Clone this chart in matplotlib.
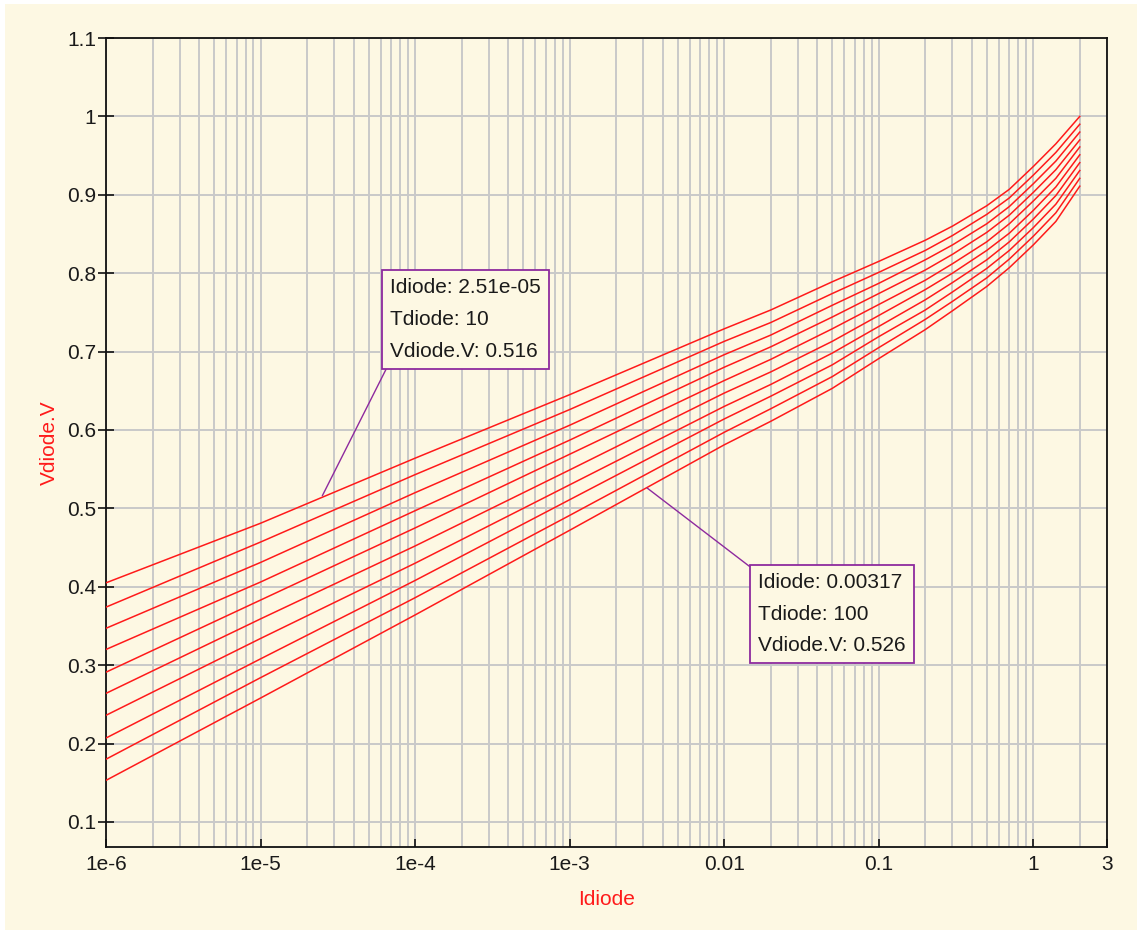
import matplotlib
matplotlib.use('Agg')
import matplotlib.pyplot as plt
from matplotlib.patches import Rectangle
from matplotlib.ticker import FixedLocator, NullFormatter

# ---- data ----
idiode = [1e-6, 1e-5, 1e-4, 1e-3, 1e-2, 0.02, 0.05, 0.1, 0.2, 0.3, 0.5, 0.7, 1.0, 1.4, 2.0]
tdiode = [10, 20, 30, 40, 50, 60, 70, 80, 90, 100]
v_t10 = [0.405, 0.481, 0.564, 0.645, 0.729, 0.753, 0.789, 0.815, 0.842, 0.860, 0.886, 0.907, 0.936, 0.965, 1.000]
v_t20 = [0.374, 0.457, 0.543, 0.626, 0.713, 0.737, 0.774, 0.801, 0.829, 0.848, 0.875, 0.896, 0.925, 0.954, 0.990]
v_t30 = [0.347, 0.431, 0.520, 0.606, 0.696, 0.721, 0.759, 0.787, 0.817, 0.836, 0.863, 0.885, 0.914, 0.943, 0.980]
v_t40 = [0.320, 0.406, 0.497, 0.587, 0.680, 0.706, 0.744, 0.774, 0.804, 0.824, 0.852, 0.874, 0.903, 0.932, 0.970]
v_t50 = [0.291, 0.383, 0.475, 0.569, 0.663, 0.690, 0.729, 0.760, 0.791, 0.812, 0.840, 0.863, 0.892, 0.921, 0.961]
v_t60 = [0.264, 0.359, 0.452, 0.549, 0.647, 0.674, 0.713, 0.746, 0.779, 0.800, 0.829, 0.851, 0.880, 0.910, 0.951]
v_t70 = [0.236, 0.334, 0.430, 0.530, 0.630, 0.658, 0.698, 0.732, 0.766, 0.788, 0.817, 0.840, 0.869, 0.899, 0.941]
v_t80 = [0.207, 0.308, 0.408, 0.511, 0.614, 0.643, 0.683, 0.719, 0.753, 0.776, 0.806, 0.829, 0.858, 0.888, 0.931]
v_t90 = [0.180, 0.284, 0.386, 0.491, 0.597, 0.627, 0.668, 0.705, 0.741, 0.764, 0.794, 0.818, 0.847, 0.877, 0.921]
v_t100 = [0.153, 0.258, 0.364, 0.472, 0.581, 0.611, 0.653, 0.691, 0.728, 0.752, 0.783, 0.807, 0.836, 0.866, 0.911]
series = [v_t10, v_t20, v_t30, v_t40, v_t50, v_t60, v_t70, v_t80, v_t90, v_t100]

xtick_vals = [1e-6, 1e-5, 1e-4, 1e-3, 1e-2, 0.1, 1, 3]
xtick_labels = ['1e-6', '1e-5', '1e-4', '1e-3', '0.01', '0.1', '1', '3']
ytick_vals = [0.1, 0.2, 0.3, 0.4, 0.5, 0.6, 0.7, 0.8, 0.9, 1.0, 1.1]
ytick_labels = ['0.1', '0.2', '0.3', '0.4', '0.5', '0.6', '0.7', '0.8', '0.9', '1', '1.1']

# annotations: (Idiode, Tdiode, V)
ann1 = (2.51e-05, 10, 0.516)
ann1_text = ['2.51e-05', '10', '0.516']
ann2 = (0.00317, 100, 0.526)
ann2_text = ['0.00317', '100', '0.526']

# ---- style ----
W, H = 1137, 930
bg = '#fdf8e3'
grid_c = '#c9c9c9'
red = '#ff1a1a'
purple = '#8e2a9e'
plt.rcParams['font.family'] = ['Liberation Sans', 'DejaVu Sans']
fs = 15

fig = plt.figure(figsize=(W / 100, H / 100), dpi=100)
fig.patch.set_facecolor('white')
fig.patches.append(Rectangle((5 / W, 0), 1 - 5 / W, 1 - 4 / H, transform=fig.transFigure,
                             facecolor=bg, edgecolor='none', zorder=-10))

L, R, T, B = 106, 1107, 38, 847
ax = fig.add_axes([L / W, (H - B) / H, (R - L) / W, (B - T) / H])
ax.set_facecolor(bg)

for v in series:
    ax.plot(idiode, v, color=red, lw=1.1, zorder=3)

ax.set_xscale('log')
ax.set_xlim(1e-6, 3)
ax.set_ylim(0.068, 1.1)

# grid
ax.xaxis.set_major_locator(FixedLocator(xtick_vals))
ax.set_xticklabels(xtick_labels)
minor = []
for d in [1e-6, 1e-5, 1e-4, 1e-3, 1e-2, 0.1, 1]:
    for k in range(2, 10):
        if d * k < 3:
            minor.append(d * k)
ax.xaxis.set_minor_locator(FixedLocator(minor))
ax.xaxis.set_minor_formatter(NullFormatter())
ax.yaxis.set_major_locator(FixedLocator(ytick_vals))
ax.set_yticklabels(ytick_labels)
ax.grid(True, which='major', axis='both', color=grid_c, lw=1.4, zorder=0)
ax.grid(True, which='minor', axis='x', color=grid_c, lw=1.4, zorder=0)
ax.set_axisbelow(True)

for s in ax.spines.values():
    s.set_color('#111111')
    s.set_linewidth(1.3)

ax.tick_params(axis='x', which='major', direction='in', length=5.5, width=1.2,
               color='#111111', labelsize=fs, pad=6, labelcolor='#1a1a1a')
ax.tick_params(axis='x', which='minor', length=0)
ax.tick_params(axis='y', which='major', direction='inout', length=12, width=1.2,
               color='#111111', labelsize=fs, pad=1, labelcolor='#1a1a1a')

ax.set_xlabel('Idiode', color=red, fontsize=fs, labelpad=11)
ax.set_ylabel('Vdiode.V', color=red, fontsize=fs, labelpad=6)

box = dict(boxstyle='square,pad=0.38', facecolor=bg, edgecolor=purple, lw=1.3)

def label(t):
    return f'Idiode: {t[0]}\nTdiode: {t[1]}\nVdiode.V: {t[2]}'

ax.annotate(label(ann1_text), xy=(ann1[0], ann1[2]), xycoords='data',
            xytext=(68, 135), textcoords='offset pixels', ha='left', va='bottom',
            fontsize=fs, color='#1a1a1a', linespacing=1.85, bbox=box, zorder=5,
            arrowprops=dict(arrowstyle='-', color=purple, lw=1.0, shrinkA=0, shrinkB=0,
                            relpos=(0, 0)))
ax.annotate(label(ann2_text), xy=(ann2[0], ann2[2]), xycoords='data',
            xytext=(111, -85), textcoords='offset pixels', ha='left', va='top',
            fontsize=fs, color='#1a1a1a', linespacing=1.85, bbox=box, zorder=5,
            arrowprops=dict(arrowstyle='-', color=purple, lw=1.0, shrinkA=0, shrinkB=0,
                            relpos=(0, 1)))

fig.savefig('out.png', dpi=100, facecolor=fig.get_facecolor())
